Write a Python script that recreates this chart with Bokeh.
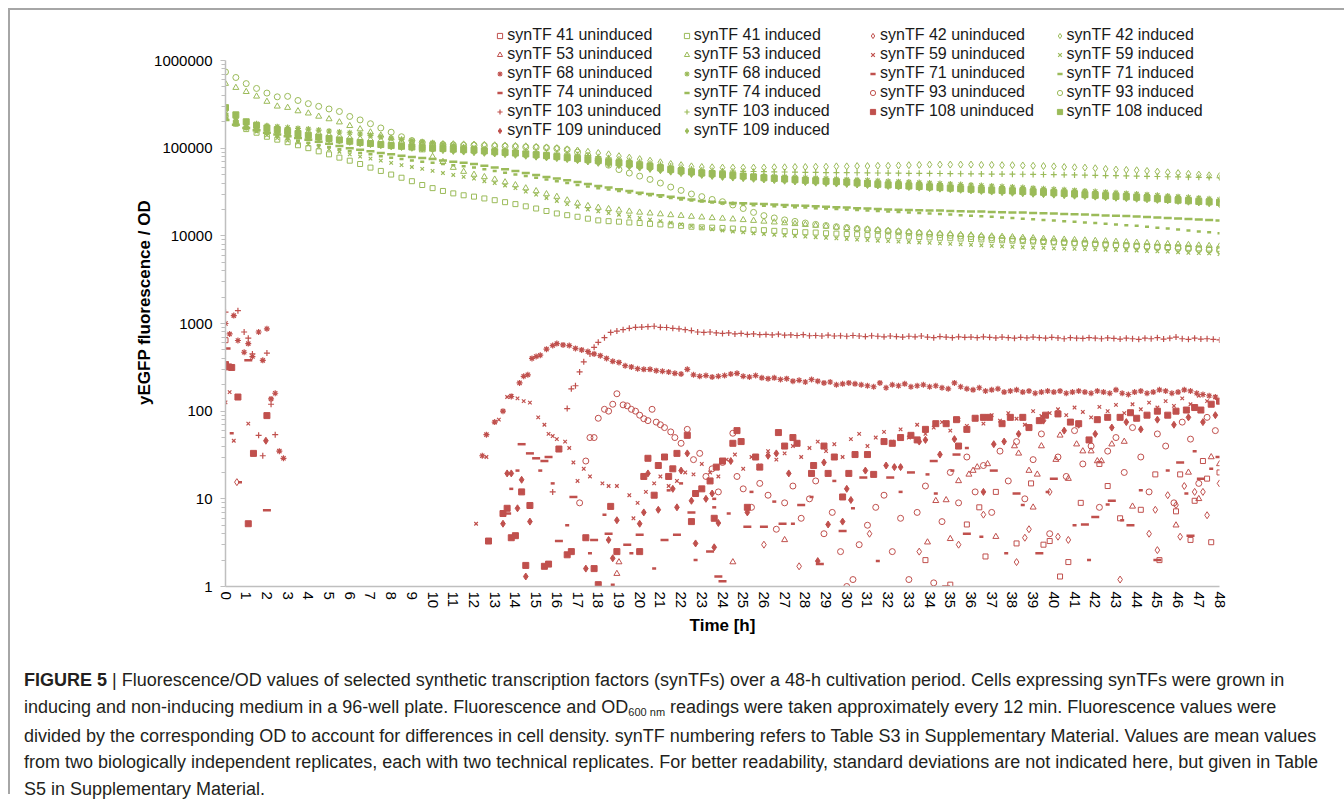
import math
from bokeh.plotting import figure
from bokeh.models import Range1d, FixedTicker, Legend, LegendItem, NumeralTickFormatter, Div
from bokeh.layouts import column
from bokeh.embed import file_html
from bokeh.resources import INLINE

FONT = "Liberation Sans"
GREEN = "#9BBB59"
RED = "#C0504D"

# ---------------- data ----------------
# induced series: readings every 0.5 h from 0 to 48 h, values in thousands
T_IND = [i * 0.5 for i in range(97)]

IND_41_K = [225, 190, 165, 150, 135, 125, 117, 108, 100, 92,
            85, 78, 72, 66, 60, 55, 50, 46, 42, 38,
            35, 32.5, 30.5, 29, 28, 26.7, 25.5, 24.2, 23, 21.7,
            20.5, 19.2, 18, 17.2, 16.5, 15.7, 15, 14.7, 14.5, 14.2,
            14, 13.7, 13.5, 13.2, 13, 12.7, 12.5, 12.4, 12.3, 12.1,
            11.9, 11.7, 11.6, 11.4, 11.3, 11.1, 11, 10.9, 10.7, 10.6,
            10.5, 10.4, 10.2, 10.1, 10, 9.9, 9.8, 9.7, 9.6, 9.5,
            9.4, 9.3, 9.2, 9.1, 9.0, 8.9, 8.8, 8.7, 8.6, 8.5,
            8.4, 8.3, 8.2, 8.1, 8.0, 7.9, 7.85, 7.8, 7.7, 7.6,
            7.5, 7.45, 7.4, 7.3, 7.2, 7.15, 7.1]
IND_42_K = [230, 205, 190, 182, 175, 168, 162, 156, 150, 145,
            140, 135, 130, 127, 124, 121, 118, 116, 114, 113,
            112, 111.5, 111, 110.5, 110, 109, 108, 107, 106, 105,
            103.5, 102, 100, 97, 94, 91, 88, 85, 81, 78,
            75, 72, 69, 66, 64, 62, 61, 60.5, 60, 60,
            60, 60, 60, 60.5, 60.5, 61, 61, 61.5, 61.5, 62,
            62, 62.5, 62.5, 63, 63, 63.5, 64, 64.5, 65, 65,
            65, 65, 65, 64.5, 64.5, 64, 64, 63.5, 63, 62.5,
            62, 61, 60.5, 60, 59, 58, 57, 56.5, 56, 55,
            54, 53, 52, 51, 50, 49, 48]
IND_53_K = [545, 490, 440, 390, 340, 300, 290, 265, 250, 230,
            215, 198, 180, 165, 152, 140, 130, 120, 110, 95,
            80, 70, 60, 54, 50, 47, 44, 41, 38, 35,
            32.5, 30, 28, 25.5, 23.5, 22, 21, 20.3, 19.6, 19,
            18.5, 18.1, 17.7, 17.3, 17, 16.6, 16.3, 16, 15.8, 15.5,
            15.2, 14.9, 14.6, 14.3, 14, 13.7, 13.4, 13.1, 12.8, 12.5,
            12.3, 12.1, 11.9, 11.7, 11.5, 11.3, 11.1, 10.9, 10.8, 10.6,
            10.5, 10.3, 10.2, 10.0, 9.9, 9.8, 9.7, 9.55, 9.45, 9.3,
            9.2, 9.1, 9.0, 8.9, 8.8, 8.7, 8.6, 8.5, 8.4, 8.3,
            8.2, 8.1, 8.0, 7.9, 7.8, 7.7, 7.6]
IND_59_K = [230, 195, 170, 155, 140, 130, 122, 116, 110, 103,
            97, 91, 85, 80, 76, 72, 68, 64, 61, 58,
            55, 52, 49.5, 47, 45, 42, 40, 37.5, 35, 32,
            29.5, 27, 25, 23, 21.5, 20, 19, 18.2, 17.4, 16.6,
            16, 15.3, 14.7, 14.1, 13.5, 12.9, 12.4, 11.9, 11.5, 11.2,
            11, 10.7, 10.5, 10.3, 10.1, 9.95, 9.8, 9.65, 9.5, 9.35,
            9.2, 9.05, 8.95, 8.8, 8.7, 8.6, 8.5, 8.4, 8.3, 8.2,
            8.1, 8.0, 7.9, 7.8, 7.7, 7.6, 7.5, 7.4, 7.35, 7.3,
            7.2, 7.15, 7.1, 7.05, 7.0, 6.95, 6.9, 6.85, 6.8, 6.7,
            6.65, 6.6, 6.5, 6.4, 6.35, 6.3, 6.2]
IND_68_K = [250, 220, 200, 190, 180, 176, 172, 168, 165, 161,
            157, 153, 150, 145, 140, 135, 130, 126, 122, 118,
            115, 111, 107, 103, 100, 97.5, 95, 92.5, 90, 87.5,
            85, 82.5, 80, 77.5, 75, 72.5, 70, 68, 66, 64,
            62, 60, 58, 56.5, 55, 54, 53, 52, 51, 50.2,
            49.5, 48.7, 48, 47.5, 47, 46.5, 46, 45.5, 45, 44.5,
            44, 43.5, 43, 42.5, 42, 41.5, 41, 40.5, 40, 39.5,
            39, 38.5, 38, 37.5, 37, 36.5, 36, 35.5, 35, 34.5,
            34, 33.5, 33, 32.5, 32, 31.5, 31, 30.5, 30, 29.5,
            29, 28.5, 28, 27.5, 27, 26.5, 26]
IND_71_K = [215, 185, 165, 155, 145, 137, 130, 122, 115, 109,
            103, 97, 92, 88, 85, 81, 78, 75, 72.5, 70,
            68, 66, 64, 62, 60, 57.5, 55, 52.5, 50, 48,
            46, 44, 42, 40, 38, 36.5, 35, 33.7, 32.5, 31.2,
            30, 29, 28, 27, 26, 25.3, 24.7, 24, 23.5, 23.1,
            22.8, 22.4, 22, 21.7, 21.5, 21.2, 21, 20.7, 20.5, 20.2,
            20, 19.7, 19.5, 19.2, 19, 18.7, 18.5, 18.2, 18, 17.7,
            17.5, 17.2, 17, 16.7, 16.5, 16.2, 16, 15.7, 15.5, 15.2,
            15, 14.7, 14.5, 14.2, 14, 13.7, 13.5, 13.2, 13, 12.7,
            12.4, 12.1, 11.8, 11.5, 11.2, 11, 10.7]
IND_74_K = [210, 185, 170, 160, 150, 143, 137, 131, 125, 118,
            112, 106, 100, 96, 92, 88, 85, 82, 79.5, 77,
            75, 72.5, 70, 68, 66, 63, 60, 57.5, 55, 52,
            49.5, 47, 45, 43, 41, 39, 37, 35.5, 34, 32.5,
            31, 30, 29, 28, 27, 26, 25, 24.5, 24, 23.7,
            23.5, 23.2, 23, 22.7, 22.5, 22.2, 22, 21.7, 21.5, 21.2,
            21, 20.7, 20.5, 20.2, 20, 19.9, 19.7, 19.6, 19.5, 19.4,
            19.2, 19.1, 19, 18.9, 18.7, 18.6, 18.5, 18.4, 18.2, 18.1,
            18, 17.8, 17.6, 17.5, 17.3, 17.1, 16.9, 16.8, 16.6, 16.4,
            16.2, 16, 15.8, 15.6, 15.4, 15.2, 15]
IND_93_K = [740, 640, 545, 480, 425, 385, 390, 350, 322, 300,
            280, 262, 230, 210, 190, 170, 152, 135, 122, 116,
            112, 110, 109, 108, 108, 107, 106, 105, 104, 103,
            102, 101, 99, 96, 90, 82, 72, 64, 57, 52,
            48, 44, 40, 36, 33, 30, 28, 26, 24.5, 22.5,
            20.5, 18.5, 17, 16, 15.2, 14.6, 14, 13.5, 13.1, 12.7,
            12.4, 12.1, 11.8, 11.5, 11.3, 11.1, 10.9, 10.7, 10.5, 10.3,
            10.1, 9.95, 9.8, 9.65, 9.5, 9.35, 9.2, 9.05, 8.9, 8.75,
            8.6, 8.5, 8.35, 8.25, 8.1, 8.0, 7.85, 7.75, 7.6, 7.5,
            7.4, 7.3, 7.2, 7.1, 7.0, 6.9, 6.8]
IND_103_K = [240, 205, 185, 175, 165, 158, 152, 146, 140, 135,
             130, 125, 120, 117, 114, 111, 108, 106, 104, 102,
             100, 99, 98.5, 97.5, 97, 96, 95, 94, 93, 92,
             91, 89.5, 88, 86, 84, 82, 80, 77.5, 75, 72.5,
             70, 67.5, 65, 62.5, 60, 58, 56.5, 55.5, 55, 54.7,
             54.5, 54.2, 54, 53.7, 53.5, 53.2, 53, 52.9, 52.7, 52.6,
             52.5, 52.4, 52.2, 52.1, 52, 51.9, 51.7, 51.6, 51.5, 51.4,
             51.2, 51.1, 51, 50.9, 50.7, 50.6, 50.5, 50.4, 50.2, 50.1,
             50, 49.7, 49.5, 49.2, 49, 48.7, 48.5, 48.2, 48, 47.7,
             47.5, 47.2, 47, 46.7, 46.5, 46.2, 46]
IND_108_K = [290, 240, 200, 182, 170, 162, 155, 147, 140, 134,
             129, 124, 120, 116, 113, 110, 107, 105, 103, 101.5,
             100, 99, 97.5, 96, 95, 93, 91, 89.5, 88, 86,
             84, 82, 80, 78, 76, 74, 72, 70, 68, 66,
             64, 62, 59.5, 57, 55, 53.5, 52, 51, 50, 49,
             48, 47, 46, 45.2, 44.5, 43.7, 43, 42.5, 42, 41.5,
             41, 40.2, 39.5, 38.7, 38, 37.5, 37, 36.5, 36, 35.5,
             35, 34.5, 34, 33.6, 33.2, 32.9, 32.5, 32.1, 31.7, 31.4,
             31, 30.5, 30, 29.5, 29, 28.6, 28.2, 27.9, 27.5, 27,
             26.5, 26, 25.5, 25.1, 24.7, 24.4, 24]
IND_109_K = [220, 195, 175, 165, 155, 150, 145, 140, 135, 130,
             126, 122, 118, 114, 111, 108, 105, 103, 101, 99,
             97, 95, 93, 91.5, 90, 88.5, 87, 85.5, 84, 82,
             80, 78.5, 77, 75, 73, 70.5, 68, 66, 64, 62,
             60, 58, 56, 54, 52, 50.7, 49.5, 48.2, 47, 46.2,
             45.5, 44.7, 44, 43.2, 42.5, 41.7, 41, 40.5, 40, 39.5,
             39, 38.5, 38, 37.5, 37, 36.5, 36, 35.5, 35, 34.5,
             34, 33.5, 33, 32.5, 32, 31.5, 31, 30.6, 30.2, 29.9,
             29.5, 29.1, 28.7, 28.4, 28, 27.6, 27.2, 26.9, 26.5, 26.1,
             25.7, 25.4, 25, 24.5, 24, 23.5, 23]

# uninduced series: (time h, value) for readings above the axis minimum
UN_41 = [(0.0, 645), (33.8, 2.0), (35.0, 1.05), (35.8, 5.1), (36.4, 8.0), (36.7, 2.2),
         (37.2, 12), (38.2, 3.1), (38.9, 15), (39.5, 3.0), (39.8, 3.3), (40.3, 1.3),
         (40.7, 1.9), (41.3, 9), (42.2, 25), (42.6, 14), (43.2, 6), (44.2, 7.5),
         (44.9, 19), (45.1, 2.0), (45.9, 7.2), (46.1, 19), (46.6, 3.4), (46.8, 9.5),
         (47.2, 27), (47.4, 17), (47.6, 3.2), (48.0, 20)]
UN_42 = [(0.55, 15.5), (26.0, 3.0), (27.7, 1.7), (31.1, 4.0), (33.5, 2.5), (35.4, 3.0),
         (36.6, 6.6), (38.2, 1.9), (38.6, 3.6), (38.8, 4.5), (39.8, 12), (40.2, 3.7),
         (40.7, 3.4), (43.2, 1.2), (44.6, 4.0), (44.9, 7.5), (45.0, 2.6), (45.5, 11),
         (45.9, 8.5), (46.1, 3.7), (46.3, 14), (46.8, 12), (47.2, 12), (47.4, 6.5), (48.0, 15)]
UN_53 = [(18.9, 1.4), (19.0, 1.9), (24.5, 1.9), (27.0, 3.4), (33.9, 3.2), (34.3, 9.5),
         (34.8, 9.7), (35.0, 3.5), (35.4, 16), (35.9, 19), (36.1, 21), (36.3, 23),
         (36.8, 25), (37.2, 3.7), (38.1, 40), (38.3, 33), (38.8, 21), (39.0, 8.0),
         (39.2, 19), (39.4, 40), (40.1, 28), (40.3, 53), (40.7, 17), (41.1, 42),
         (41.4, 35), (41.8, 35), (42.1, 27), (42.3, 27), (42.8, 42), (43.4, 45),
         (43.8, 8.2), (45.9, 5.0), (46.5, 20), (47.0, 10), (47.6, 30), (48.0, 25)]
UN_59 = [(0.0, 126), (0.2, 165), (0.4, 46), (1.1, 72), (12.1, 5.2), (12.6, 30), (13.0, 75),
         (13.2, 80), (13.6, 145), (13.8, 150), (14.1, 140), (14.4, 130), (14.7, 125),
         (15.1, 85), (15.4, 70), (15.6, 55), (15.8, 52), (16.0, 48), (16.4, 45), (16.6, 38),
         (16.8, 26), (17.0, 16), (17.3, 22), (17.6, 18), (18.2, 15), (18.5, 14), (18.9, 14),
         (19.5, 11), (19.7, 6), (19.9, 9), (20.3, 12), (20.7, 15), (21.0, 18), (21.4, 14),
         (21.8, 16), (22.2, 20), (22.6, 19), (23.0, 25), (23.4, 20), (23.8, 18), (24.2, 28),
         (24.6, 32), (25.0, 22), (25.4, 30), (25.8, 24), (26.2, 35), (26.6, 28), (27.0, 33),
         (27.4, 40), (27.8, 30), (28.2, 38), (28.6, 45), (29.0, 35), (29.4, 42), (29.8, 30),
         (30.2, 48), (30.6, 55), (31.0, 40), (31.4, 50), (31.8, 58), (32.2, 45), (32.6, 62),
         (33.0, 50), (33.4, 70), (33.8, 55), (34.2, 65), (34.6, 75), (35.0, 60), (35.4, 80),
         (35.8, 68), (36.2, 85), (36.6, 72), (37.0, 90), (37.4, 78), (37.8, 95), (38.2, 82),
         (38.6, 70), (39.0, 100), (39.4, 88), (39.8, 95), (40.2, 105), (40.6, 90), (41.0, 110),
         (41.4, 98), (41.8, 85), (42.2, 112), (42.6, 100), (43.0, 118), (43.4, 95), (43.8, 120),
         (44.2, 105), (44.6, 125), (45.0, 110), (45.4, 130), (45.8, 115), (46.2, 140),
         (46.6, 120), (47.0, 150), (47.4, 130), (47.8, 145)]
UN_68 = [(0.0, 1000), (0.2, 760), (0.4, 1230), (0.6, 640), (0.9, 470), (1.1, 590), (1.3, 420),
         (1.6, 800), (1.8, 380), (2.0, 870), (2.2, 138), (2.4, 160), (2.6, 35), (2.8, 29),
         (12.4, 31), (12.6, 54), (13.0, 75), (13.4, 100), (13.8, 147), (14.2, 210), (14.4, 250),
         (14.6, 260), (14.8, 400), (15.0, 420), (15.2, 435), (15.5, 510), (15.8, 560), (16.0, 590),
         (16.3, 570), (16.6, 560), (16.9, 520), (17.2, 500), (17.5, 480), (17.8, 450), (18.1, 430),
         (18.4, 400), (18.7, 370), (19.0, 360), (19.3, 330), (19.6, 320), (19.9, 305), (20.2, 300),
         (20.5, 300), (20.8, 290), (21.1, 285), (21.4, 280), (21.7, 270), (22.0, 265), (22.3, 300),
         (22.6, 260), (22.9, 250), (23.2, 255), (23.5, 245), (23.8, 250), (24.1, 255), (24.4, 265),
         (24.7, 270), (25.0, 250), (25.3, 245), (25.6, 255), (25.9, 240), (26.2, 235), (26.5, 240),
         (26.8, 230), (27.1, 235), (27.4, 220), (27.7, 225), (28.0, 215), (28.3, 230), (28.6, 220),
         (28.9, 210), (29.2, 215), (29.5, 200), (29.8, 205), (30.1, 210), (30.4, 205), (30.7, 200),
         (31.0, 195), (31.3, 190), (31.6, 210), (31.9, 185), (32.2, 200), (32.5, 195), (32.8, 205),
         (33.1, 190), (33.4, 195), (33.7, 200), (34.0, 190), (34.3, 195), (34.6, 185), (34.9, 180),
         (35.2, 210), (35.5, 190), (35.8, 180), (36.1, 175), (36.4, 185), (36.7, 170), (37.0, 175),
         (37.3, 180), (37.6, 165), (37.9, 170), (38.2, 175), (38.5, 165), (38.8, 170), (39.1, 160),
         (39.4, 165), (39.7, 170), (40.0, 165), (40.3, 170), (40.6, 160), (40.9, 165), (41.2, 170),
         (41.5, 165), (41.8, 160), (42.1, 170), (42.4, 165), (42.7, 160), (43.0, 175), (43.3, 160),
         (43.6, 155), (43.9, 165), (44.2, 170), (44.5, 160), (44.8, 165), (45.1, 175), (45.4, 170),
         (45.7, 160), (46.0, 165), (46.3, 175), (46.6, 170), (46.9, 160), (47.2, 155), (47.5, 150),
         (47.8, 145)]
UN_71 = [(0.3, 56), (0.7, 15.5), (13.8, 13), (14.1, 21), (15.2, 21), (15.8, 15), (16.5, 5),
         (17.6, 2.4), (18.3, 6.6), (18.7, 1.05), (19.6, 2.4), (20.7, 1.6), (21.4, 12.5),
         (22.0, 15), (22.7, 2.0), (23.6, 8), (23.6, 10), (24.3, 6.8), (25.4, 12), (26.5, 9.3),
         (27.4, 5.2), (28.3, 10.5), (29.4, 16), (30.3, 7.8), (31.5, 1.95), (32.6, 12),
         (33.9, 19), (34.3, 11.5), (35.1, 21), (35.8, 38), (36.5, 3.7), (37.7, 2.4), (38.5, 8.5),
         (39.7, 12), (41.0, 5), (41.7, 2.0), (42.6, 8.6), (43.3, 5.7), (44.2, 12.5), (45.5, 21),
         (46.4, 11.5), (46.8, 35), (47.6, 22)]
UN_74 = [(0.05, 520), (1.1, 380), (2.0, 7.4), (13.6, 6.8), (14.3, 42), (14.7, 33), (15.0, 29),
         (15.4, 27), (15.6, 30), (16.1, 3.3), (16.8, 10.5), (17.8, 3.4), (18.5, 4.0), (19.4, 3.0),
         (20.0, 3.9), (21.2, 3.4), (21.8, 3.9), (22.5, 7.0), (23.4, 2.5), (24.0, 1.15), (23.8, 1.3),
         (25.2, 4.8), (26.0, 4.8), (26.9, 5.2), (27.8, 8.5), (28.7, 1.8), (29.8, 4.3), (30.8, 17.5),
         (32.1, 17.5), (33.1, 20), (34.2, 27), (34.8, 1.0), (35.3, 32), (35.8, 4.0), (37.1, 21),
         (38.2, 11.5), (39.3, 2.4), (40.0, 17), (41.5, 5.1), (42.0, 6.2), (42.8, 9.5), (43.7, 5.0),
         (45.0, 2.0), (46.1, 26), (46.6, 3.8), (47.1, 17), (48.0, 30)]
UN_93 = [(17.1, 9), (17.4, 27), (17.6, 50), (17.8, 50), (18.0, 83), (18.3, 105), (18.5, 100),
         (18.7, 120), (18.9, 158), (19.2, 118), (19.4, 115), (19.6, 105), (19.8, 100), (20.0, 90),
         (20.2, 82), (20.4, 78), (20.6, 105), (20.8, 75), (21.0, 70), (21.2, 65), (21.5, 58),
         (21.7, 50), (22.0, 43), (22.3, 62), (22.6, 28), (22.9, 33), (23.2, 18), (23.5, 22),
         (23.8, 12), (24.0, 26), (24.5, 56), (24.7, 18), (25.0, 13), (25.4, 8), (25.8, 15),
         (26.2, 11), (26.6, 4.5), (27.0, 9), (27.4, 14), (27.8, 6), (28.2, 10), (28.5, 16),
         (28.9, 4), (29.3, 7), (29.7, 2.5), (30.0, 1.0), (30.3, 1.2), (30.6, 3), (31.0, 5),
         (31.4, 8), (31.8, 11), (32.2, 2.5), (32.6, 6), (33.0, 1.2), (33.4, 7), (33.8, 14),
         (34.2, 1.1), (34.6, 5.5), (35.0, 20), (35.4, 9), (35.8, 30), (36.2, 12), (36.6, 24),
         (37.0, 7), (37.4, 35), (37.8, 16), (38.2, 45), (38.6, 10), (39.0, 28), (39.4, 55),
         (39.8, 4), (40.2, 30), (40.6, 18), (41.0, 60), (41.4, 25), (41.8, 40), (42.2, 8),
         (42.6, 35), (43.0, 50), (43.4, 20), (43.8, 65), (44.2, 30), (44.6, 12), (45.0, 55),
         (45.4, 40), (45.8, 9), (46.2, 75), (46.6, 48), (47.0, 15), (47.4, 85), (47.8, 60)]
UN_103 = [(0.0, 1350), (0.6, 1400), (0.9, 800), (1.1, 680), (1.3, 450), (1.6, 53), (1.8, 31),
          (2.0, 460), (2.2, 120), (2.4, 54), (15.8, 12), (16.5, 107), (16.7, 180), (16.9, 195),
          (17.1, 280), (17.3, 365), (17.6, 450), (17.8, 535), (18.0, 610), (18.3, 690), (18.6, 790),
          (18.9, 820), (19.2, 850), (19.5, 880), (19.8, 905), (20.1, 910), (20.4, 920), (20.7, 930),
          (21.0, 905), (21.3, 900), (21.6, 880), (21.9, 870), (22.2, 850), (22.5, 830), (22.8, 800),
          (23.1, 790), (23.4, 800), (23.7, 780), (24.0, 770), (24.3, 780), (24.6, 760), (24.9, 770),
          (25.2, 750), (25.5, 760), (25.8, 745), (26.1, 750), (26.4, 740), (26.7, 755), (27.0, 735),
          (27.3, 740), (27.6, 730), (27.9, 745), (28.2, 725), (28.5, 730), (28.8, 720), (29.1, 735),
          (29.4, 720), (29.7, 725), (30.0, 715), (30.3, 730), (30.6, 720), (30.9, 710), (31.2, 725),
          (31.5, 715), (31.8, 705), (32.1, 720), (32.4, 710), (32.7, 700), (33.0, 715), (33.3, 705),
          (33.6, 720), (33.9, 700), (34.2, 690), (34.5, 710), (34.8, 700), (35.1, 690), (35.4, 705),
          (35.7, 695), (36.0, 700), (36.3, 690), (36.6, 705), (36.9, 695), (37.2, 685), (37.5, 700),
          (37.8, 690), (38.1, 680), (38.4, 695), (38.7, 685), (39.0, 700), (39.3, 690), (39.6, 680),
          (39.9, 695), (40.2, 685), (40.5, 670), (40.8, 690), (41.1, 680), (41.4, 675), (41.7, 690),
          (42.0, 680), (42.3, 670), (42.6, 685), (42.9, 675), (43.2, 665), (43.5, 680), (43.8, 670),
          (44.1, 660), (44.4, 680), (44.7, 670), (45.0, 690), (45.3, 665), (45.6, 680), (45.9, 700),
          (46.2, 670), (46.5, 660), (46.8, 680), (47.1, 665), (47.4, 670), (47.7, 660), (48.0, 650)]
UN_108 = [(0.0, 340), (0.15, 320), (0.3, 315), (0.6, 145), (1.1, 5.2), (1.35, 33), (2.0, 89),
          (12.7, 3.3), (13.4, 6.8), (13.6, 7.8), (13.8, 3.6), (14.0, 3.8), (14.3, 12), (14.5, 1.74),
          (14.7, 8.4), (15.4, 1.7), (15.6, 1.8), (16.1, 37), (16.5, 2.3), (16.7, 2.5), (17.4, 3.6),
          (17.8, 1.6), (18.0, 1.05), (18.6, 8.2), (18.9, 2.5), (20.0, 2.5), (20.2, 18), (20.4, 29),
          (20.7, 11), (20.9, 24), (21.2, 30), (21.4, 18), (21.6, 22), (21.8, 33), (22.3, 53),
          (22.5, 5.5), (22.7, 11.5), (23.0, 13), (23.4, 16), (23.6, 6), (23.7, 23), (24.0, 27),
          (24.5, 43), (24.7, 60), (24.9, 45), (25.2, 8), (25.6, 30), (25.8, 23), (26.7, 57),
          (27.0, 40), (27.4, 50), (27.6, 43), (28.3, 19.5), (28.4, 24), (28.9, 40), (29.1, 19.5),
          (29.4, 30), (29.8, 10.5), (30.1, 19.5), (30.4, 32), (31.0, 32), (31.3, 19), (31.8, 45),
          (32.2, 43), (32.6, 50), (33.1, 53), (33.4, 47), (33.8, 62), (34.3, 72), (34.8, 72),
          (35.3, 80), (35.4, 40), (35.8, 62), (36.2, 83), (36.6, 85), (36.9, 85), (37.5, 72),
          (37.9, 85), (38.5, 85), (38.8, 65), (39.3, 78), (39.6, 90), (40.2, 93), (40.8, 75),
          (41.2, 72), (41.7, 47), (42.1, 80), (42.6, 85), (43.2, 85), (43.7, 96), (44.0, 83),
          (44.5, 90), (45.0, 100), (45.5, 90), (45.9, 100), (46.4, 103), (46.8, 110), (47.1, 103),
          (47.6, 120), (48.0, 130)]
UN_109 = [(1.95, 46), (13.4, 5.2), (13.6, 19.5), (13.8, 19.5), (14.1, 7.8), (14.3, 16.5),
          (14.5, 1.3), (14.7, 5.5), (17.4, 1.6), (18.5, 3.4), (18.7, 2.1), (18.9, 5.7), (20.0, 5.2),
          (20.2, 7.0), (20.4, 19.5), (20.9, 7.5), (21.6, 13), (21.8, 8), (22.0, 21), (22.3, 33),
          (22.5, 9.5), (22.7, 3.1), (23.2, 10), (23.5, 11.5), (23.6, 2.8), (23.8, 5.3), (24.4, 27),
          (25.2, 7), (26.2, 31), (26.6, 33), (27.2, 19.5), (28.6, 1.95), (28.9, 26), (29.1, 5.1),
          (29.8, 5.5), (30.0, 13), (30.2, 9.7), (30.9, 21), (31.9, 24), (32.3, 23), (32.6, 23),
          (33.5, 45), (33.8, 47), (34.5, 32), (35.2, 48), (36.6, 12), (37.1, 42), (37.6, 45),
          (38.3, 55), (39.5, 78), (40.5, 60), (41.2, 70), (42.0, 55), (42.8, 65), (43.5, 75),
          (44.2, 62), (45.0, 80), (45.8, 70), (46.5, 85), (47.2, 75), (47.8, 90)]

TF_ORDER = ["41", "42", "53", "59", "68", "71", "74", "93", "103", "108", "109"]
INDUCED_K = {"41": IND_41_K, "42": IND_42_K, "53": IND_53_K, "59": IND_59_K, "68": IND_68_K,
             "71": IND_71_K, "74": IND_74_K, "93": IND_93_K, "103": IND_103_K,
             "108": IND_108_K, "109": IND_109_K}
UNINDUCED = {"41": UN_41, "42": UN_42, "53": UN_53, "59": UN_59, "68": UN_68, "71": UN_71,
             "74": UN_74, "93": UN_93, "103": UN_103, "108": UN_108, "109": UN_109}

Y_TICKS = [1, 10, 100, 1000, 10000, 100000, 1000000]
X_TICKS = list(range(49))

CAPTION_1_BOLD = "FIGURE 5"
CAPTION_1 = ("| Fluorescence/OD values of selected synthetic transcription factors (synTFs) over a "
             "48-h cultivation period. Cells expressing synTFs were grown in")
CAPTION_2A = "inducing and non-inducing medium in a 96-well plate. Fluorescence and OD"
CAPTION_2SUB = "600 nm"
CAPTION_2B = "readings were taken approximately every 12 min. Fluorescence values were"
CAPTION_3 = ("divided by the corresponding OD to account for differences in cell density. synTF "
             "numbering refers to Table S3 in Supplementary Material. Values are mean values")
CAPTION_4 = ("from two biologically independent replicates, each with two technical replicates. "
             "For better readability, standard deviations are not indicated here, but given in Table")
CAPTION_5 = "S5 in Supplementary Material."

# ---------------- styles ----------------
STYLE = {
    "41": dict(marker="square", size=5, hollow=True, lw=1),
    "42": dict(marker="diamond", size=7, hollow=True, lw=1),
    "53": dict(marker="triangle", size=6, hollow=True, lw=1),
    "59": dict(marker="x", size=5, hollow=False, lw=1.2),
    "68": dict(marker="asterisk", size=6, hollow=False, lw=1.2),
    "71": dict(marker="dash", size=4, hollow=False, lw=2.5),
    "74": dict(marker="dash", size=8, hollow=False, lw=2.5),
    "93": dict(marker="circle", size=6, hollow=True, lw=1),
    "103": dict(marker="cross", size=6, hollow=False, lw=1.2),
    "108": dict(marker="square", size=6, hollow=False, lw=1),
    "109": dict(marker="diamond", size=7, hollow=False, lw=1),
}

W = 1334
H1 = 648
H2 = 136
DECADE_PX = 526 / 6.0          # pixel height of one decade on the value axis
TOP_PAD_PX = 42                # room above 10^6 for the legend
Y_TOP = 10 ** (6 + TOP_PAD_PX / DECADE_PX)

p = figure(width=W, height=H1, x_range=Range1d(0, 48), y_range=Range1d(1, Y_TOP),
           y_axis_type="log", output_backend="svg", toolbar_location=None,
           min_border_left=215, min_border_right=W - 1209, min_border_top=8, min_border_bottom=72)
p.outline_line_color = None
p.grid.visible = False
p.background_fill_color = "white"
p.border_fill_color = "white"

xa = p.xaxis[0]
xa.ticker = FixedTicker(ticks=X_TICKS)
xa.major_label_orientation = -math.pi / 2
xa.axis_line_color = "#bfbfbf"
xa.axis_line_width = 1.5
xa.major_tick_line_color = None
xa.minor_tick_line_color = None
xa.major_tick_out = 0
xa.major_tick_in = 0
xa.major_label_standoff = 5
xa.major_label_text_font = FONT
xa.major_label_text_font_size = "15px"
xa.major_label_text_color = "#000000"
xa.axis_label = "Time [h]"
xa.axis_label_text_font = FONT
xa.axis_label_text_font_style = "bold"
xa.axis_label_text_font_size = "17px"
xa.axis_label_text_color = "#000000"
xa.axis_label_standoff = 5

ya = p.yaxis[0]
ya.bounds = (1, 1000000)
ya.ticker = FixedTicker(ticks=Y_TICKS,
                        minor_ticks=[k * 10 ** d for d in range(6) for k in range(2, 10)])
ya.formatter = NumeralTickFormatter(format="0")
ya.axis_line_color = "#bfbfbf"
ya.axis_line_width = 1.5
ya.major_tick_line_color = "#bfbfbf"
ya.minor_tick_line_color = "#bfbfbf"
ya.major_tick_out = 5
ya.major_tick_in = 0
ya.minor_tick_out = 4
ya.minor_tick_in = 0
ya.major_label_standoff = 8
ya.major_label_text_font = FONT
ya.major_label_text_font_size = "15px"
ya.major_label_text_color = "#000000"
ya.axis_label = "yEGFP fluorescence / OD"
ya.axis_label_text_font = FONT
ya.axis_label_text_font_style = "bold"
ya.axis_label_text_font_size = "17px"
ya.axis_label_text_color = "#000000"
ya.axis_label_standoff = -3


def add_series(xs, ys, color, st):
    kw = dict(marker=st["marker"], size=st["size"], line_color=color, line_width=st["lw"])
    kw["fill_color"] = None if st["hollow"] else color
    return p.scatter(xs, ys, **kw)


renderers = {}
for tf in TF_ORDER:
    st = STYLE[tf]
    ut = [a for a, b in UNINDUCED[tf]]
    uv = [b for a, b in UNINDUCED[tf]]
    renderers[(tf, "un")] = add_series(ut, uv, RED, st)
    iv = [v * 1000 for v in INDUCED_K[tf]]
    renderers[(tf, "in")] = add_series(T_IND, iv, GREEN, st)

COLS = [
    (["41", "53", "68", "74", "103", "109"], "un", (268.3, 446.5)),
    (["41", "53", "68", "74", "103", "109"], "in", (454.7, 446.5)),
    (["42", "59", "71", "93", "108"], "un", (641.0, 465.5)),
    (["42", "59", "71", "93", "108"], "in", (827.6, 465.5)),
]
for tfs, kind, loc in COLS:
    word = "uninduced" if kind == "un" else "induced"
    items = [LegendItem(label=f"synTF {tf} {word}", renderers=[renderers[(tf, kind)]]) for tf in tfs]
    lg = Legend(items=items, location=loc, orientation="vertical",
                border_line_color=None, background_fill_alpha=0,
                padding=0, margin=0, spacing=0,
                glyph_width=13, glyph_height=19, label_height=19, label_standoff=1,
                label_text_font=FONT, label_text_font_size="16px", label_text_color="#1a1a1a")
    p.add_layout(lg)

# ---------------- caption ----------------
cap_html = (
    '<div style="font-family:\'Liberation Sans\',Arial,sans-serif;font-size:18px;'
    'line-height:26.8px;color:#231f20;white-space:nowrap;padding:9px 0 0 14px;">'
    f'<b>{CAPTION_1_BOLD}</b> {CAPTION_1}<br>'
    f'{CAPTION_2A}<span style="font-size:11px;position:relative;top:3px;">{CAPTION_2SUB}</span> '
    f'{CAPTION_2B}<br>'
    f'{CAPTION_3}<br>{CAPTION_4}<br>{CAPTION_5}</div>'
)
cdiv = Div(text=cap_html, width=W, height=H2, margin=0)

layout = column(p, cdiv, margin=(8, 0, 0, 8),
                styles={"border-top": "2px solid #a6a6a6", "border-left": "2px solid #a6a6a6"})

open("out.html", "w").write(file_html(layout, INLINE))
